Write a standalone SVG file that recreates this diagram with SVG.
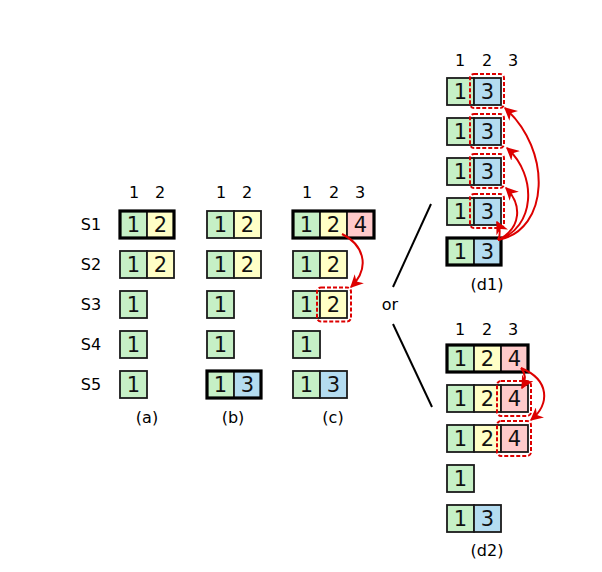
<svg xmlns="http://www.w3.org/2000/svg" width="602" height="572" viewBox="0 0 602 572">
<defs>
<style>
.g{fill:#c6f0c6}.y{fill:#ffffc6}.b{fill:#b4dcf0}.p{fill:#ffcaca}
.c{stroke:#1a1a1a;stroke-width:1.8}
.thick{fill:none;stroke:#000;stroke-width:3.2}
.d{font-family:"DejaVu Sans",sans-serif;font-size:21px;fill:#111;text-anchor:middle}
.h{font-family:"DejaVu Sans",sans-serif;font-size:16px;fill:#000;text-anchor:middle}
.dash{fill:none;stroke:#dd0000;stroke-width:2;stroke-dasharray:4 2}
.arr{fill:none;stroke:#dd0000;stroke-width:2;marker-end:url(#ah)}
.sep{stroke:#000;stroke-width:2}
</style>
<marker id="ah" viewBox="0 0 10 10" refX="9" refY="5" markerWidth="13" markerHeight="13" orient="auto" markerUnits="userSpaceOnUse">
<path d="M0 0 L10 5 L0 10 L3 5 Z" fill="#dd0000"/>
</marker>
</defs>

<g id="labels">
<text class="h" x="91" y="230">S1</text>
<text class="h" x="91" y="270">S2</text>
<text class="h" x="91" y="310">S3</text>
<text class="h" x="91" y="350">S4</text>
<text class="h" x="91" y="390">S5</text>
<text class="h" x="134" y="198">1</text><text class="h" x="160" y="198">2</text>
<text class="h" x="221" y="198">1</text><text class="h" x="247" y="198">2</text>
<text class="h" x="307" y="198">1</text><text class="h" x="334" y="198">2</text><text class="h" x="360" y="198">3</text>
<text class="h" x="460" y="66">1</text><text class="h" x="487" y="66">2</text><text class="h" x="513" y="66">3</text>
<text class="h" x="460" y="335">1</text><text class="h" x="487" y="335">2</text><text class="h" x="513" y="335">3</text>
<text class="h" x="147" y="423">(a)</text>
<text class="h" x="233" y="423">(b)</text>
<text class="h" x="333" y="423">(c)</text>
<text class="h" x="487" y="290">(d1)</text>
<text class="h" x="487" y="556">(d2)</text>
<text class="h" x="390" y="310">or</text>
</g>

<g id="col-a">
<rect class="g c" x="120" y="211" width="27" height="27"/><rect class="y c" x="147" y="211" width="27" height="27"/><rect class="thick" x="120" y="211" width="54" height="27"/>
<text class="d" x="133.5" y="232">1</text><text class="d" x="160.5" y="232">2</text>
<rect class="g c" x="120" y="251" width="27" height="27"/><rect class="y c" x="147" y="251" width="27" height="27"/>
<text class="d" x="133.5" y="272">1</text><text class="d" x="160.5" y="272">2</text>
<rect class="g c" x="120" y="291" width="27" height="27"/><text class="d" x="133.5" y="312">1</text>
<rect class="g c" x="120" y="331" width="27" height="27"/><text class="d" x="133.5" y="352">1</text>
<rect class="g c" x="120" y="371" width="27" height="27"/><text class="d" x="133.5" y="392">1</text>
</g>

<g id="col-b">
<rect class="g c" x="207" y="211" width="27" height="27"/><rect class="y c" x="234" y="211" width="27" height="27"/>
<text class="d" x="220.5" y="232">1</text><text class="d" x="247.5" y="232">2</text>
<rect class="g c" x="207" y="251" width="27" height="27"/><rect class="y c" x="234" y="251" width="27" height="27"/>
<text class="d" x="220.5" y="272">1</text><text class="d" x="247.5" y="272">2</text>
<rect class="g c" x="207" y="291" width="27" height="27"/><text class="d" x="220.5" y="312">1</text>
<rect class="g c" x="207" y="331" width="27" height="27"/><text class="d" x="220.5" y="352">1</text>
<rect class="g c" x="207" y="371" width="27" height="27"/><rect class="b c" x="234" y="371" width="27" height="27"/><rect class="thick" x="207" y="371" width="54" height="27"/>
<text class="d" x="220.5" y="392">1</text><text class="d" x="247.5" y="392">3</text>
</g>

<g id="col-c">
<rect class="g c" x="293" y="211" width="27" height="27"/><rect class="y c" x="320" y="211" width="27" height="27"/><rect class="p c" x="347" y="211" width="27" height="27"/><rect class="thick" x="293" y="211" width="81" height="27"/>
<text class="d" x="306.5" y="232">1</text><text class="d" x="333.5" y="232">2</text><text class="d" x="360.5" y="232">4</text>
<rect class="g c" x="293" y="251" width="27" height="27"/><rect class="y c" x="320" y="251" width="27" height="27"/>
<text class="d" x="306.5" y="272">1</text><text class="d" x="333.5" y="272">2</text>
<rect class="g c" x="293" y="291" width="27" height="27"/><rect class="y c" x="320" y="291" width="27" height="27"/>
<text class="d" x="306.5" y="312">1</text><text class="d" x="333.5" y="312">2</text>
<rect class="dash" x="317" y="287.5" width="34" height="34" rx="4"/>
<rect class="g c" x="293" y="331" width="27" height="27"/><text class="d" x="306.5" y="352">1</text>
<rect class="g c" x="293" y="371" width="27" height="27"/><rect class="b c" x="320" y="371" width="27" height="27"/>
<text class="d" x="306.5" y="392">1</text><text class="d" x="333.5" y="392">3</text>
</g>

<g id="col-d1">
<rect class="g c" x="447" y="78" width="27" height="27"/><rect class="b c" x="474" y="78" width="27" height="27"/>
<text class="d" x="460.5" y="99">1</text><text class="d" x="487.5" y="99">3</text>
<rect class="dash" x="470" y="74" width="34" height="34" rx="4"/>
<rect class="g c" x="447" y="118" width="27" height="27"/><rect class="b c" x="474" y="118" width="27" height="27"/>
<text class="d" x="460.5" y="139">1</text><text class="d" x="487.5" y="139">3</text>
<rect class="dash" x="470" y="114" width="34" height="34" rx="4"/>
<rect class="g c" x="447" y="158" width="27" height="27"/><rect class="b c" x="474" y="158" width="27" height="27"/>
<text class="d" x="460.5" y="179">1</text><text class="d" x="487.5" y="179">3</text>
<rect class="dash" x="470" y="154" width="34" height="34" rx="4"/>
<rect class="g c" x="447" y="198" width="27" height="27"/><rect class="b c" x="474" y="198" width="27" height="27"/>
<text class="d" x="460.5" y="219">1</text><text class="d" x="487.5" y="219">3</text>
<rect class="dash" x="470" y="194" width="34" height="34" rx="4"/>
<rect class="g c" x="447" y="238" width="27" height="27"/><rect class="b c" x="474" y="238" width="27" height="27"/><rect class="thick" x="447" y="238" width="54" height="27"/>
<text class="d" x="460.5" y="259">1</text><text class="d" x="487.5" y="259">3</text>
</g>

<g id="col-d2">
<rect class="g c" x="447" y="345" width="27" height="27"/><rect class="y c" x="474" y="345" width="27" height="27"/><rect class="p c" x="501" y="345" width="27" height="27"/><rect class="thick" x="447" y="345" width="81" height="27"/>
<text class="d" x="460.5" y="366">1</text><text class="d" x="487.5" y="366">2</text><text class="d" x="514.5" y="366">4</text>
<rect class="g c" x="447" y="385" width="27" height="27"/><rect class="y c" x="474" y="385" width="27" height="27"/><rect class="p c" x="501" y="385" width="27" height="27"/>
<text class="d" x="460.5" y="406">1</text><text class="d" x="487.5" y="406">2</text><text class="d" x="514.5" y="406">4</text>
<rect class="dash" x="497" y="381" width="34" height="35" rx="4"/>
<rect class="g c" x="447" y="425" width="27" height="27"/><rect class="y c" x="474" y="425" width="27" height="27"/><rect class="p c" x="501" y="425" width="27" height="27"/>
<text class="d" x="460.5" y="446">1</text><text class="d" x="487.5" y="446">2</text><text class="d" x="514.5" y="446">4</text>
<rect class="dash" x="497" y="421" width="34" height="35" rx="4"/>
<rect class="g c" x="447" y="465" width="27" height="27"/><text class="d" x="460.5" y="486">1</text>
<rect class="g c" x="447" y="505" width="27" height="27"/><rect class="b c" x="474" y="505" width="27" height="27"/>
<text class="d" x="460.5" y="526">1</text><text class="d" x="487.5" y="526">3</text>
</g>

<g id="connectors">
<line class="sep" x1="431" y1="204" x2="393" y2="287"/>
<line class="sep" x1="393" y1="324" x2="432" y2="407"/>
<path class="arr" d="M342 234 C362 244 372 266 351 287"/>
<path class="arr" d="M498 240 C501 234 500 228 497 222"/>
<path class="arr" d="M498 240 C522 228 522 204 506 188"/>
<path class="arr" d="M498 240 C535 228 538 176 507 148"/>
<path class="arr" d="M498 240 C550 230 552 150 505 108"/>
<path class="arr" d="M521 368 C526 374 526 381 522 388"/>
<path class="arr" d="M521 368 C550 380 550 404 531 420"/>
</g>
</svg>
